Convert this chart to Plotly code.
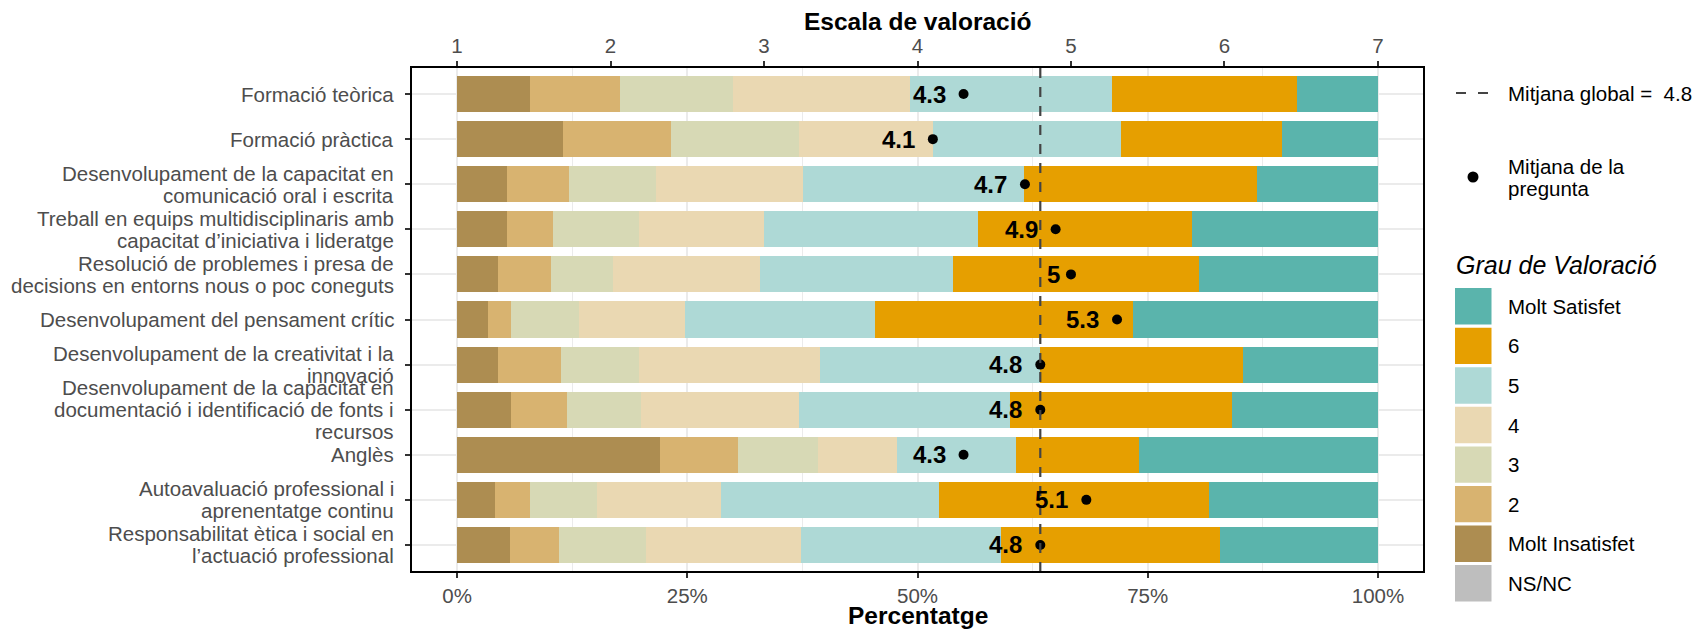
import plotly.graph_objects as go

# --- data -------------------------------------------------------------
categories = [
    "Formació teòrica",
    "Formació pràctica",
    "Desenvolupament de la capacitat en\ncomunicació oral i escrita",
    "Treball en equips multidisciplinaris amb\ncapacitat d’iniciativa i lideratge",
    "Resolució de problemes i presa de\ndecisions en entorns nous o poc coneguts",
    "Desenvolupament del pensament crític",
    "Desenvolupament de la creativitat i la\ninnovació",
    "Desenvolupament de la capacitat en\ndocumentació i identificació de fonts i\nrecursos",
    "Anglès",
    "Autoavaluació professional i\naprenentatge continu",
    "Responsabilitat ètica i social en\nl’actuació professional",
]

levels = ["Molt Insatisfet", "2", "3", "4", "5", "6", "Molt Satisfet", "NS/NC"]

# percentage of answers per level (rows follow `categories`)
pct_molt_insatisfet = [7.9, 11.5, 5.4, 5.4, 4.5, 3.4, 4.5, 5.9, 22.0, 4.1, 5.8]
pct_2 = [9.8, 11.7, 6.8, 5.0, 5.7, 2.5, 6.8, 6.0, 8.5, 3.8, 5.3]
pct_3 = [12.3, 13.9, 9.4, 9.4, 6.7, 7.3, 8.5, 8.1, 8.7, 7.3, 9.4]
pct_4 = [19.2, 14.6, 16.0, 13.5, 16.0, 11.5, 19.6, 17.1, 8.6, 13.5, 16.8]
pct_5 = [21.9, 20.4, 24.0, 23.3, 21.0, 20.7, 23.9, 22.9, 12.9, 23.6, 21.8]
pct_6 = [20.1, 17.5, 25.3, 23.2, 26.7, 28.0, 22.0, 24.2, 13.4, 29.3, 23.8]
pct_molt_satisfet = [8.8, 10.4, 13.1, 20.2, 19.4, 26.6, 14.7, 15.8, 25.9, 18.4, 17.1]
pct_nsnc = [0, 0, 0, 0, 0, 0, 0, 0, 0, 0, 0]

question_means = [4.3, 4.1, 4.7, 4.9, 5.0, 5.3, 4.8, 4.8, 4.3, 5.1, 4.8]
global_mean = 4.8

pct_ticks = [0, 0.25, 0.5, 0.75, 1.0]
pct_tick_labels = ["0%", "25%", "50%", "75%", "100%"]
scale_ticks = [1, 2, 3, 4, 5, 6, 7]

level_colors = {
    "Molt Insatisfet": "#AD8D51",
    "2": "#D8B370",
    "3": "#D7D9B5",
    "4": "#EAD8B2",
    "5": "#AED9D6",
    "6": "#E69F00",
    "Molt Satisfet": "#5AB4AC",
    "NS/NC": "#BEBEBE",
}

series = [pct_molt_insatisfet, pct_2, pct_3, pct_4, pct_5, pct_6,
          pct_molt_satisfet, pct_nsnc]

# --- geometry ---------------------------------------------------------
W, H = 1694, 629
ML, MR, MT, MB = 411, 270, 67, 57
PW, PH = W - ML - MR, H - MT - MB
FONT = "Liberation Sans, Arial, Helvetica, sans-serif"
TXT = 20.5


def px(x):
    return (x - ML) / PW


def py(y):
    return 1 - (y - MT) / PH


keys = [c.replace("\n", " ") for c in categories]

fig = go.Figure()

for name, vals in zip(levels, series):
    fig.add_trace(go.Bar(
        x=[v / 100 for v in vals], y=keys, orientation="h", name=name,
        marker=dict(color=level_colors[name], line=dict(width=0)),
        width=0.8, showlegend=False, hoverinfo="skip",
    ))

fig.add_trace(go.Scatter(
    x=question_means, y=keys, xaxis="x2", yaxis="y", mode="markers",
    marker=dict(color="black", size=10), showlegend=False, hoverinfo="skip",
))

annotations = []
shapes = []


def fmt(v):
    s = f"{v:.1f}"
    return s[:-2] if s.endswith(".0") else s


# mean labels to the left of each dot
for k, m in zip(keys, question_means):
    t = fmt(m)
    w = 24 * sum(0.278 if ch == "." else 0.556 for ch in t)
    annotations.append(dict(
        x=m, y=k, xref="x2", yref="y", text=f"<b>{t}</b>", showarrow=False,
        xanchor="right", yanchor="middle", xshift=-(5 + 0.33 * w),
        font=dict(family=FONT, size=24, color="black"),
    ))

# category labels, one annotation per line
LS = 22
for k, c in zip(keys, categories):
    lines = c.split("\n")
    n = len(lines)
    for i, ln in enumerate(lines):
        annotations.append(dict(
            x=0, y=k, xref="paper", yref="y", text=ln, showarrow=False,
            xanchor="right", yanchor="middle", xshift=-15,
            yshift=((n - 1) / 2 - i) * LS,
            font=dict(family=FONT, size=TXT, color="#4D4D4D"),
        ))

# axis titles
annotations.append(dict(x=0.5, y=py(615), xref="paper", yref="paper",
                        text="<b>Percentatge</b>", showarrow=False,
                        xanchor="center", yanchor="middle",
                        font=dict(family=FONT, size=24.5, color="black")))
annotations.append(dict(x=0.5, y=py(21.5), xref="paper", yref="paper",
                        text="<b>Escala de valoració</b>", showarrow=False,
                        xanchor="center", yanchor="middle",
                        font=dict(family=FONT, size=24.5, color="black")))

# global mean line
shapes.append(dict(type="line", xref="x2", yref="paper", x0=global_mean,
                   x1=global_mean, y0=0, y1=1, layer="above",
                   line=dict(color="#444444", width=2.2, dash="10px,9px")))

# panel border
shapes.append(dict(type="rect", xref="paper", yref="paper", x0=0, x1=1,
                   y0=0, y1=1, layer="above",
                   line=dict(color="black", width=2)))

# --- legend -----------------------------------------------------------
LX_KEY0, LX_KEY1, LX_TEXT = 1455, 1491.5, 1506


def legend_text(x, y, text, size=TXT, italic=False):
    annotations.append(dict(
        x=px(x), y=py(y), xref="paper", yref="paper",
        text=f"<i>{text}</i>" if italic else text, showarrow=False,
        xanchor="left", yanchor="middle",
        font=dict(family=FONT, size=size, color="black"),
    ))


shapes.append(dict(type="line", xref="paper", yref="paper",
                   x0=px(1456), x1=px(1489), y0=py(93), y1=py(93),
                   line=dict(color="#444444", width=2.2, dash="10px,12px")))
legend_text(LX_TEXT, 93, f"Mitjana global =\u00a0 {fmt(global_mean)}")

r = 5.5
shapes.append(dict(type="circle", xref="paper", yref="paper",
                   x0=px(1473 - r), x1=px(1473 + r),
                   y0=py(177 + r), y1=py(177 - r),
                   fillcolor="black", line=dict(width=0)))
legend_text(LX_TEXT, 167, "Mitjana de la")
legend_text(LX_TEXT, 188, "pregunta")

legend_text(1454, 265, "Grau de Valoració", size=25, italic=True)

legend_order = ["Molt Satisfet", "6", "5", "4", "3", "2", "Molt Insatisfet",
                "NS/NC"]
for i, name in enumerate(legend_order):
    cy = 306.3 + i * 39.57
    shapes.append(dict(type="rect", xref="paper", yref="paper",
                       x0=px(LX_KEY0), x1=px(LX_KEY1),
                       y0=py(cy + 18.2), y1=py(cy - 18.2),
                       fillcolor=level_colors[name], line=dict(width=0)))
    legend_text(LX_TEXT, cy, name)

tickfont = dict(family=FONT, size=TXT, color="#4D4D4D")

fig.update_layout(
    width=W, height=H,
    margin=dict(l=ML, r=MR, t=MT, b=MB, autoexpand=False),
    paper_bgcolor="white", plot_bgcolor="white",
    barmode="stack", bargap=0.2, showlegend=False,
    annotations=annotations, shapes=shapes,
    xaxis=dict(
        range=[-0.05, 1.05], tickvals=pct_ticks, ticktext=pct_tick_labels,
        ticks="outside", ticklen=5, tickwidth=1.5, tickcolor="#333333",
        showgrid=True, gridcolor="#EBEBEB", gridwidth=1.6, zeroline=False,
        tickfont=tickfont, showline=False,
        minor=dict(tickvals=[0.125, 0.375, 0.625, 0.875], showgrid=True,
                   gridcolor="#EBEBEB", gridwidth=1.2, ticks=""),
    ),
    xaxis2=dict(
        overlaying="x", side="top", anchor="y", range=[0.7, 7.3],
        tickvals=scale_ticks, ticks="outside", ticklen=5, tickwidth=1.5,
        tickcolor="#333333", showgrid=False, zeroline=False,
        tickfont=tickfont, showline=False,
    ),
    yaxis=dict(
        type="category", categoryorder="array", categoryarray=keys,
        range=[len(keys) - 0.4, -0.6], ticks="outside", ticklen=5,
        tickwidth=1.5, tickcolor="#333333", showticklabels=False,
        showgrid=True, gridcolor="#EBEBEB", gridwidth=1.6, zeroline=False,
        showline=False,
    ),
)

fig.write_html("out.html")
